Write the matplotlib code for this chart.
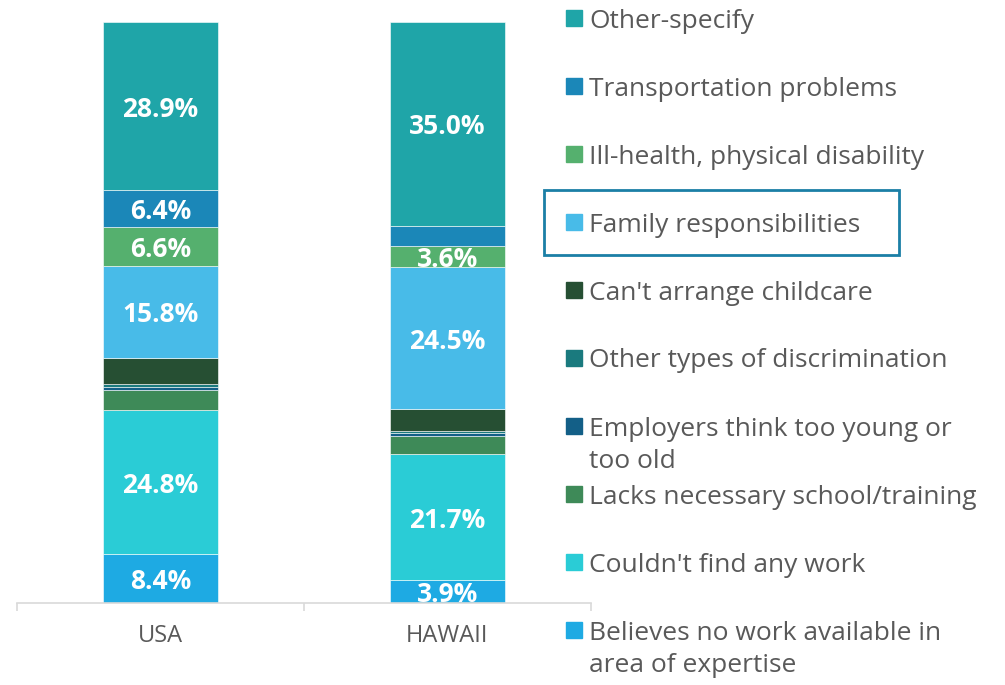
import numpy as np
import matplotlib.pyplot as plt
from matplotlib.patches import Rectangle

plt.rcParams['font.family'] = ['Open Sans', 'DejaVu Sans']

# Data (percent of respondents), stacked bottom -> top
regions = ['USA', 'HAWAII']
reasons = [
    'Believes no work available in\narea of expertise',
    "Couldn't find any work",
    'Lacks necessary school/training',
    'Employers think too young or\ntoo old',
    'Other types of discrimination',
    "Can't arrange childcare",
    'Family responsibilities',
    'Ill-health, physical disability',
    'Transportation problems',
    'Other-specify',
]
usa = [8.4, 24.8, 3.4, 0.6, 0.5, 4.5, 15.8, 6.6, 6.4, 28.9]
hawaii = [3.9, 21.7, 3.1, 0.6, 0.3, 3.7, 24.5, 3.6, 3.5, 35.0]
# which segments carry a value label in the original
usa_labeled = [1, 1, 0, 0, 0, 0, 1, 1, 1, 1]
hawaii_labeled = [1, 1, 0, 0, 0, 0, 1, 1, 0, 1]
colors = ['#1EAAE3', '#2ACCD6', '#3E8A58', '#135F87', '#1A7A7E',
          '#264F33', '#48BBE8', '#55B06E', '#1B87B8', '#1FA5A8']

values = np.array([usa, hawaii])
labeled = np.array([usa_labeled, hawaii_labeled])

W, H = 1005, 685
fig = plt.figure(figsize=(W / 100, H / 100), dpi=100)
ax = fig.add_axes([17 / W, 1 - 603 / H, (591 - 17) / W, (603 - 22) / H])

x = np.arange(len(regions))
bottom = np.zeros(len(regions))
for i, name in enumerate(reasons):
    vals = values[:, i]
    ax.bar(x, vals, 0.4, bottom=bottom, color=colors[i],
           edgecolor='white', linewidth=0.4)
    for xi, v, b, show in zip(x, vals, bottom, labeled[:, i]):
        if show:
            ax.text(xi, b + v / 2, f'{v:.1f}%', ha='center', va='center_baseline',
                    color='white', fontsize=19, fontweight='bold')
    bottom += vals

ax.set_xlim(-0.5, 1.5)
ax.set_ylim(0, values.sum(axis=1).max())
ax.set_yticks([])
for s in ['top', 'right', 'left']:
    ax.spines[s].set_visible(False)
ax.spines['bottom'].set_color('#D9D9D9')
ax.spines['bottom'].set_linewidth(1.2)
ax.set_xticks(x)
ax.set_xticklabels(regions, fontsize=17, color='#595959')
ax.tick_params(axis='x', which='major', length=0, pad=15)
ax.set_xticks([-0.5, 0.5, 1.5], minor=True)
ax.tick_params(axis='x', which='minor', length=6, color='#D9D9D9', width=1.2)

# legend, top entry = top of stack
y0, step, line_h = 18, 68, 33
for k, name in enumerate(reversed(reasons)):
    i = len(reasons) - 1 - k
    yc = y0 + k * step
    fig.patches.append(Rectangle((566 / W, 1 - (yc + 8) / H), 16 / W, 16 / H,
                                 transform=fig.transFigure, color=colors[i]))
    for j, line in enumerate(name.split('\n')):
        fig.text(589 / W, 1 - (yc + 9.5 + j * line_h) / H, line, ha='left',
                 va='baseline', fontsize=19, color='#595959')

# highlight box around "Family responsibilities"
fig.patches.append(Rectangle((544 / W, 1 - 255 / H), (899 - 544) / W, (255 - 190) / H,
                             transform=fig.transFigure, fill=False,
                             edgecolor='#1B7FA6', linewidth=2))

fig.savefig('out.png', dpi=100)
